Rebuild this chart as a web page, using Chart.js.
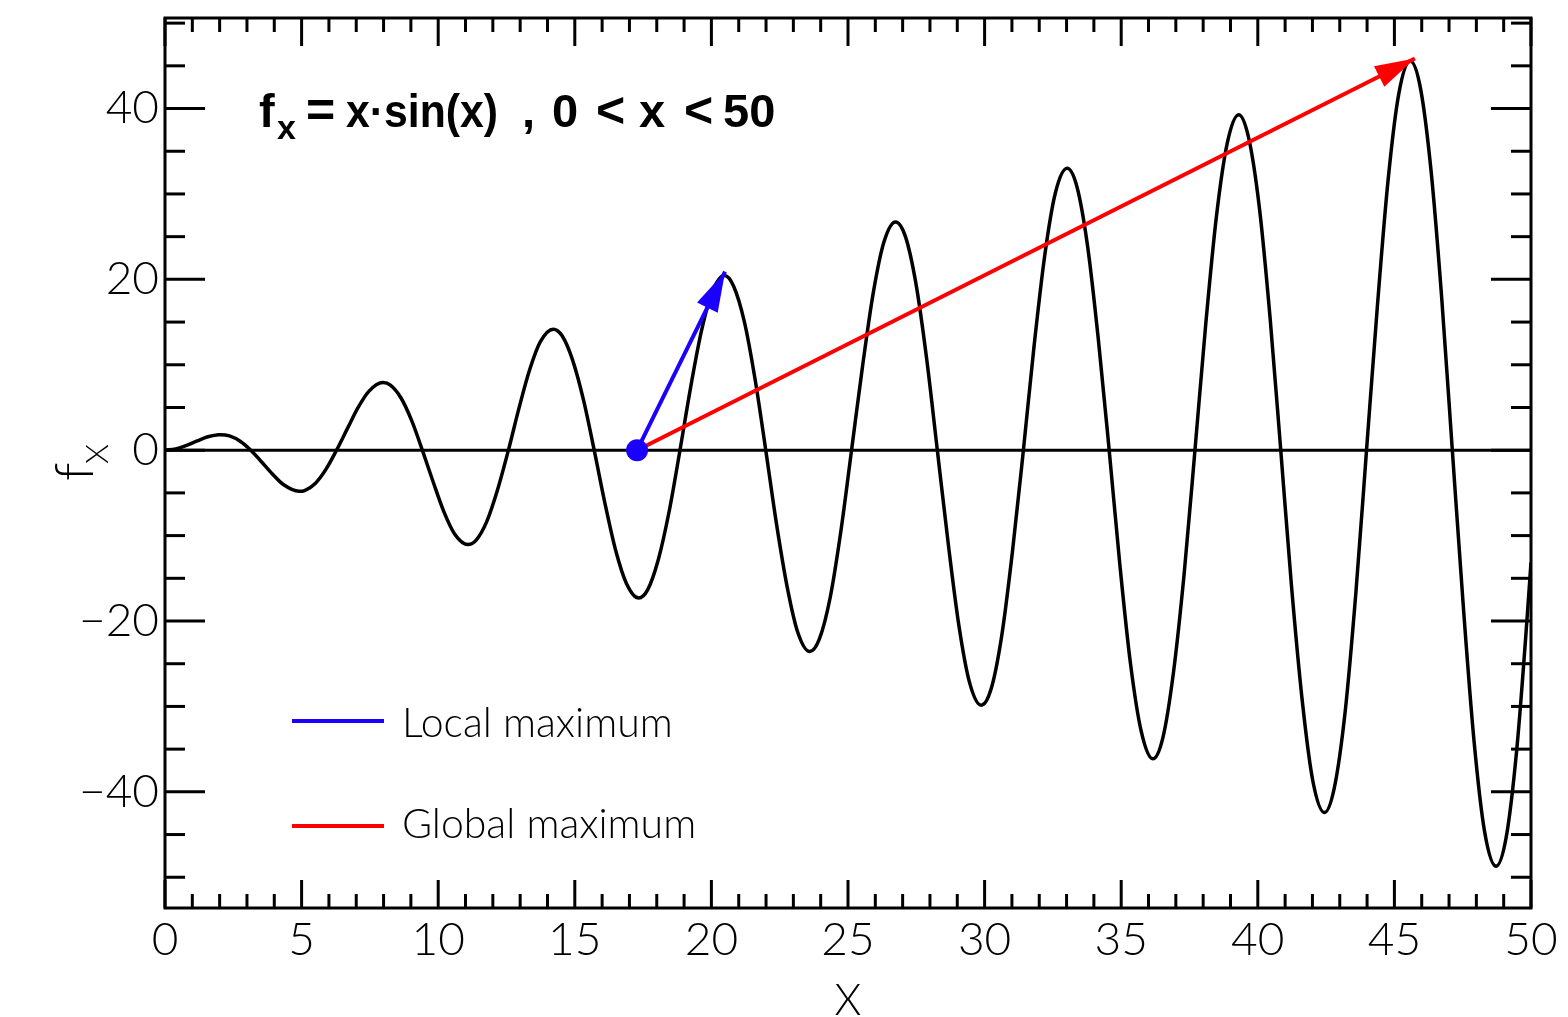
<!DOCTYPE html>
<html><head><meta charset="utf-8">
<script src="https://cdn.jsdelivr.net/npm/chart.js@4.4.0/dist/chart.umd.min.js"></script>
<style>html,body{margin:0;padding:0;background:#fff;}canvas{display:block;}</style>
</head><body>
<canvas id="c" width="1568" height="1017"></canvas>
<script>
// ---- data ----
const curveX = [0,0.39,0.79,1.18,1.57,1.96,2.03,2.36,2.75,
3.14,3.53,3.93,4.32,4.91,5.11,5.50,5.89,
6.28,6.68,7.07,7.46,7.98,8.25,8.64,9.03,
9.42,9.82,10.21,10.60,11.09,11.39,11.78,12.17,
12.57,12.96,13.35,13.74,14.21,14.53,14.92,15.32,
15.71,16.10,16.49,16.89,17.34,17.67,18.06,18.46,
18.85,19.24,19.63,20.03,20.47,20.81,21.21,21.60,
21.99,22.38,22.78,23.17,23.60,23.95,24.35,24.74,
25.13,25.53,25.92,26.31,26.74,27.10,27.49,27.88,
28.27,28.67,29.06,29.45,29.88,30.24,30.63,31.02,
31.42,31.81,32.20,32.59,33.02,33.38,33.77,34.16,
34.56,34.95,35.34,35.74,36.16,36.52,36.91,37.31,
37.70,38.09,38.48,38.88,39.30,39.66,40.06,40.45,
40.84,41.23,41.63,42.02,42.44,42.80,43.20,43.59,
43.98,44.38,44.77,45.16,45.58,45.95,46.34,46.73,
47.12,47.52,47.91,48.30,48.72,49.09,49.48,49.87,50.00];
const curveY = [0,0.15,0.56,1.09,1.57,1.81,1.82,1.67,1.05,
0,-1.35,-2.78,-3.99,-4.81,-4.72,-3.89,-2.25,
0,2.55,5.00,6.89,7.92,7.62,6.11,3.46,
0,-3.76,-7.22,-9.80,-11.04,-10.52,-8.33,-4.66,
0,4.96,9.44,12.70,14.17,13.42,10.55,5.86,
0,-6.16,-11.66,-15.60,-17.31,-16.33,-12.77,-7.06,
0,7.36,13.88,18.50,20.44,19.23,14.99,8.27,
0,-8.57,-16.11,-21.41,-23.58,-22.13,-17.22,-9.47,
0,9.77,18.33,24.31,26.72,25.03,19.44,10.67,
0,-10.97,-20.55,-27.21,-29.86,-27.94,-21.66,-11.87,
0,12.17,22.77,30.11,33.00,30.84,23.88,13.07,
0,-13.37,-24.99,-33.02,-36.14,-33.74,-26.10,-14.28,
0,14.58,27.21,35.92,39.28,36.64,28.32,15.48,
0,-15.78,-29.43,-38.82,-42.42,-39.55,-30.55,-16.68,
0,16.98,31.66,41.72,45.56,42.45,32.77,17.88,
0,-18.18,-33.88,-44.63,-48.71,-45.35,-34.99,-19.09,-13.12];

const zeroLineX = [0, 50];
const zeroLineY = [0, 0];
const localArrowX = [17.28, 20.50];
const localArrowY = [0, 20.9];
const globalArrowX = [17.28, 45.75];
const globalArrowY = [0, 45.85];
const startPointX = [17.28];
const startPointY = [0];

const xTickValues = [0,5,10,15,20,25,30,35,40,45,50];
const yTickValues = [-40,-20,0,20,40];
const xMinorTicks = [0,1,2,3,4,5,6,7,8,9,10,11,12,13,14,15,16,17,18,19,20,21,22,23,24,25,26,27,28,29,30,31,32,33,34,35,36,37,38,39,40,41,42,43,44,45,46,47,48,49,50];
const yMinorTicks = [-50,-45,-40,-35,-30,-25,-20,-15,-10,-5,0,5,10,15,20,25,30,35,40,45,50];
const xRange = [0, 50];
const yRange = [-53.6, 50.6];

// title pieces: [text, left px, font size, baseline px, max width]
const titlePieces = [
  ['f', 259, 47, 127, 0],
  ['x', 277, 34, 139, 0],
  ['=', 306, 50, 127, 0],
  ['x\u00B7sin(x)', 346, 47, 127, 152],
  [',', 522, 47, 127, 0],
  ['0', 552, 47, 127, 0],
  ['<', 596, 50, 127, 0],
  ['x', 639, 47, 127, 0],
  ['<', 684, 50, 127, 0],
  ['50', 723, 47, 127, 0]
];
const xAxisTitle = 'X';
const yAxisTitleMain = 'f';
const yAxisTitleSub = 'X';
const legendLabels = ['Local maximum', 'Global maximum'];

// ---- styling ----
const BLUE = '#1a00ff';
const RED = '#ff0000';
const LIGHT = '"Lato", "Open Sans", sans-serif';
const BOLD = '"Liberation Sans", Arial, sans-serif';

const pts = (xs, ys) => xs.map((x, i) => ({x: x, y: ys[i]}));

function line(ctx, x1, y1, x2, y2) {
  ctx.beginPath(); ctx.moveTo(x1, y1); ctx.lineTo(x2, y2); ctx.stroke();
}

const decor = {
  id: 'decor',
  afterDraw(chart) {
    const {ctx, chartArea: a, scales: {x, y}} = chart;
    ctx.save();
    // arrow heads
    [[2, RED], [3, BLUE]].forEach(([idx, col]) => {
      const d = chart.getDatasetMeta(idx).data;
      const p0 = d[0], p1 = d[d.length - 1];
      const dx = p1.x - p0.x, dy = p1.y - p0.y, L = Math.hypot(dx, dy);
      const ux = dx / L, uy = dy / L;
      const bx = p1.x - ux * 40, by = p1.y - uy * 40;
      ctx.fillStyle = col;
      ctx.beginPath();
      ctx.moveTo(p1.x, p1.y);
      ctx.lineTo(bx - uy * 11.5, by + ux * 11.5);
      ctx.lineTo(bx + uy * 11.5, by - ux * 11.5);
      ctx.closePath(); ctx.fill();
    });
    // frame and ticks
    ctx.strokeStyle = '#000';
    ctx.lineWidth = 3;
    ctx.lineCap = 'butt';
    xMinorTicks.forEach(v => {
      const px = x.getPixelForValue(v);
      const len = v % 5 === 0 ? 28 : 14;
      line(ctx, px, a.bottom, px, a.bottom - len);
      line(ctx, px, a.top, px, a.top + len);
    });
    yMinorTicks.forEach(v => {
      const py = y.getPixelForValue(v);
      const len = v % 20 === 0 ? 40 : 20;
      line(ctx, a.left, py, a.left + len, py);
      line(ctx, a.right, py, a.right - len, py);
    });
    ctx.strokeRect(a.left, a.top, a.right - a.left, a.bottom - a.top);

    // title inside plot
    ctx.fillStyle = '#000';
    ctx.textAlign = 'left';
    ctx.textBaseline = 'alphabetic';
    titlePieces.forEach(([t, px, fs, by, mw]) => {
      ctx.font = 'bold ' + fs + 'px ' + BOLD;
      if (mw) ctx.fillText(t, px, by, mw); else ctx.fillText(t, px, by);
    });

    // legend
    ctx.lineWidth = 4;
    ctx.strokeStyle = BLUE;
    line(ctx, 292, 721, 384, 721);
    ctx.strokeStyle = RED;
    line(ctx, 292, 826, 384, 826);
    ctx.font = '300 41px ' + LIGHT;
    ctx.fillText(legendLabels[0], 402, 737);
    ctx.fillText(legendLabels[1], 402, 838);

    // x axis title
    ctx.font = '300 43px ' + LIGHT;
    ctx.textAlign = 'center';
    ctx.fillText(xAxisTitle, (a.left + a.right) / 2, 1015);

    // y axis title (rotated)
    ctx.save();
    ctx.translate(93, 481);
    ctx.rotate(-Math.PI / 2);
    ctx.textAlign = 'left';
    ctx.font = '300 54px ' + LIGHT;
    ctx.fillText(yAxisTitleMain, 0, 0);
    ctx.font = '300 32px ' + LIGHT;
    ctx.fillText(yAxisTitleSub, 17, 15);
    ctx.restore();

    ctx.restore();
  }
};

const tickFont = {family: LIGHT, size: 46, weight: '300'};

new Chart(document.getElementById('c'), {
  type: 'line',
  data: {
    datasets: [
      {data: pts(curveX, curveY), borderColor: '#000', borderWidth: 3.5, pointRadius: 0,
       cubicInterpolationMode: 'monotone', order: 5},
      {data: pts(zeroLineX, zeroLineY), borderColor: '#000', borderWidth: 3, pointRadius: 0, order: 4},
      {data: pts(globalArrowX, globalArrowY), borderColor: RED, borderWidth: 4, pointRadius: 0, order: 3},
      {data: pts(localArrowX, localArrowY), borderColor: BLUE, borderWidth: 4, pointRadius: 0, order: 2},
      {data: pts(startPointX, startPointY), showLine: false, pointRadius: 11, pointStyle: 'circle',
       pointBackgroundColor: BLUE, pointBorderColor: BLUE, pointBorderWidth: 0, order: 1}
    ]
  },
  options: {
    responsive: false,
    animation: false,
    devicePixelRatio: 1,
    layout: {padding: {top: 18, right: 37, left: 0, bottom: 0}},
    plugins: {legend: {display: false}, tooltip: {enabled: false}},
    scales: {
      x: {
        type: 'linear', min: xRange[0], max: xRange[1],
        afterBuildTicks: s => { s.ticks = xTickValues.map(v => ({value: v})); },
        afterFit: s => { s.height = 109; s.paddingLeft = 0; s.paddingRight = 0; },
        grid: {display: false, drawTicks: false},
        border: {display: false},
        ticks: {font: tickFont, color: '#000', padding: 5, maxRotation: 0, autoSkip: false}
      },
      y: {
        type: 'linear', min: yRange[0], max: yRange[1],
        afterBuildTicks: s => { s.ticks = yTickValues.map(v => ({value: v})); },
        afterFit: s => { s.width = 165; s.paddingTop = 0; s.paddingBottom = 0; },
        grid: {display: false, drawTicks: false},
        border: {display: false},
        ticks: {font: tickFont, color: '#000', padding: 6, autoSkip: false,
          callback: v => v < 0 ? '\u2212' + Math.abs(v) : String(v)}
      }
    }
  },
  plugins: [decor]
});
</script>
</body></html>
